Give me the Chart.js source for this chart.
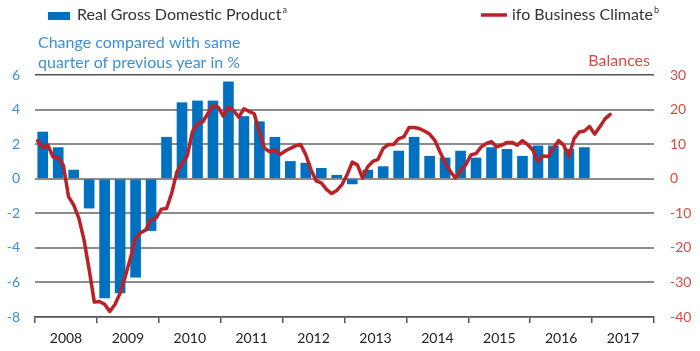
<!DOCTYPE html>
<html>
<head>
<meta charset="utf-8">
<script src="https://cdn.jsdelivr.net/npm/chart.js@4.4.1/dist/chart.umd.min.js"></script>
<style>
  body { margin: 0; background: #fff; }
  #wrap { width: 700px; height: 351px; }
</style>
</head>
<body>
<div id="wrap"><canvas id="ifoChart" width="700" height="351"></canvas></div>
<script>
// quarterly GDP, change vs same quarter previous year (%), 2008Q1 - 2016Q4
const gdpQuarterly = [
  2.7, 1.8, 0.5, -1.7,
  -6.9, -6.6, -5.7, -3.0,
  2.4, 4.4, 4.5, 4.5,
  5.6, 3.6, 3.3, 2.4,
  1.0, 0.9, 0.6, 0.2,
  -0.3, 0.5, 0.7, 1.6,
  2.4, 1.3, 1.2, 1.6,
  1.2, 1.8, 1.7, 1.3,
  1.9, 1.9, 1.7, 1.8
];

// ifo business climate, balances, monthly Jan 2008 - Apr 2017
const ifoMonthly = [
  11.0, 9.0, 9.7, 6.3, 6.1, 3.9, -5.2, -7.6, -11.4, -17.7, -26.3, -35.7,
  -35.5, -36.3, -38.4, -36.4, -33.1, -28.3, -23.0, -17.2, -15.6, -14.8, -11.9, -11.3,
  -8.8, -8.6, -4.2, 2.0, 4.4, 6.5, 13.5, 15.9, 16.4, 18.8, 21.1, 20.7,
  18.1, 20.7, 19.7, 17.8, 20.2, 19.5, 18.8, 13.5, 8.8, 7.8, 8.3, 7.0,
  8.0, 8.8, 9.5, 9.9, 6.9, 2.6, -0.6, -1.2, -3.1, -4.3, -3.4, -1.7,
  1.1, 4.8, 4.0, 0.2, 3.5, 5.0, 5.6, 8.8, 9.9, 9.9, 11.6, 12.1,
  14.8, 14.8, 14.5, 13.8, 12.9, 11.1, 7.8, 4.7, 2.1, 0.2, 2.3, 4.0,
  6.9, 7.3, 9.2, 10.2, 10.7, 9.2, 9.7, 10.5, 10.5, 9.7, 11.0, 9.9,
  8.3, 5.0, 6.6, 6.4, 8.8, 11.0, 9.7, 6.4, 11.6, 13.5, 13.8, 15.1,
  12.9, 15.0, 17.3, 18.6
];

const startYear = 2008;
const endYear = 2018;
const gdpTicks = [-8, -6, -4, -2, 0, 2, 4, 6];
const ifoTicks = [-40, -30, -20, -10, 0, 10, 20, 30];

const gdpLabel = 'Real Gross Domestic Product';
const ifoLabel = 'ifo Business Climate';
const leftTitle = ['Change compared with same', 'quarter of previous year in %'];
const rightTitle = 'Balances';

const barColor = '#0070c0';
const lineColor = '#bb2228';
const blueText = '#3d8fd8';
const redText = '#d64a45';
const fontFamily = 'Lato, "Open Sans", sans-serif';

const gdpPoints = gdpQuarterly.map((v, i) => ({ x: startYear + (i + 0.5) / 4, y: v }));
const ifoPoints = ifoMonthly.map((v, i) => ({ x: startYear + (i + 0.5) / 12, y: v }));

// legend + axis titles drawn on the canvas
const headerText = {
  id: 'headerText',
  afterDraw(chart) {
    const ctx = chart.ctx;
    ctx.save();
    ctx.textBaseline = 'middle';
    ctx.textAlign = 'left';

    ctx.fillStyle = barColor;
    ctx.fillRect(48, 12, 22, 8);
    ctx.font = '16px ' + fontFamily;
    ctx.fillStyle = '#333';
    ctx.fillText(gdpLabel, 77, 15);
    let w = ctx.measureText(gdpLabel).width;
    ctx.font = '9px ' + fontFamily;
    ctx.fillText('a', 78 + w, 10);

    ctx.strokeStyle = lineColor;
    ctx.lineWidth = 3.5;
    ctx.beginPath();
    ctx.moveTo(481, 15);
    ctx.lineTo(507, 15);
    ctx.stroke();
    ctx.font = '16px ' + fontFamily;
    ctx.fillStyle = '#333';
    ctx.fillText(ifoLabel, 512, 15);
    w = ctx.measureText(ifoLabel).width;
    ctx.font = '9px ' + fontFamily;
    ctx.fillText('b', 513 + w, 10);

    ctx.font = '16px ' + fontFamily;
    ctx.fillStyle = blueText;
    ctx.fillText(leftTitle[0], 38, 43);
    ctx.fillText(leftTitle[1], 38, 63);

    ctx.fillStyle = redText;
    ctx.textAlign = 'right';
    ctx.fillText(rightTitle, 650, 61);
    ctx.restore();
  }
};

new Chart(document.getElementById('ifoChart'), {
  type: 'bar',
  data: {
    datasets: [
      {
        type: 'line',
        label: ifoLabel,
        data: ifoPoints,
        xAxisID: 'x',
        yAxisID: 'y1',
        borderColor: lineColor,
        borderWidth: 3.5,
        pointRadius: 0,
        tension: 0,
        borderJoinStyle: 'round',
        borderCapStyle: 'round',
        order: 0
      },
      {
        type: 'bar',
        label: gdpLabel,
        data: gdpPoints,
        xAxisID: 'x',
        yAxisID: 'y',
        backgroundColor: barColor,
        borderWidth: 0,
        barThickness: 10,
        order: 1
      }
    ]
  },
  options: {
    responsive: false,
    animation: false,
    layout: { padding: { top: 75, left: 0, right: 0, bottom: 0 } },
    plugins: {
      legend: { display: false },
      tooltip: { enabled: false }
    },
    scales: {
      x: {
        type: 'linear',
        min: startYear,
        max: endYear,
        offset: false,
        grid: {
          offset: false,
          drawOnChartArea: false,
          drawTicks: true,
          tickLength: 6,
          color: '#555',
          lineWidth: 1.5
        },
        border: { display: true, color: '#555', width: 1.5 },
        ticks: {
          stepSize: 1,
          autoSkip: false,
          maxRotation: 0,
          labelOffset: 31,
          padding: 7,
          color: '#222',
          font: { family: fontFamily, size: 14 },
          callback: v => (v < endYear ? String(v) : '')
        },
        afterFit: s => { s.height = 34; }
      },
      y: {
        position: 'left',
        min: -8,
        max: 6,
        afterBuildTicks: s => { s.ticks = gdpTicks.map(v => ({ value: v })); },
        grid: {
          drawTicks: false,
          color: c => (c.tick.value === 6 || c.tick.value === -8) ? '#555' : '#8c8c8c',
          lineWidth: c => (c.tick.value === 6 || c.tick.value === -8) ? 1.5 : 2
        },
        border: { display: false },
        ticks: {
          padding: 15,
          color: blueText,
          font: { family: fontFamily, size: 14 }
        },
        afterFit: s => { s.width = 35; }
      },
      y1: {
        position: 'right',
        min: -40,
        max: 30,
        afterBuildTicks: s => { s.ticks = ifoTicks.map(v => ({ value: v })); },
        grid: { drawOnChartArea: false, drawTicks: false },
        border: { display: false },
        ticks: {
          padding: 16,
          color: redText,
          font: { family: fontFamily, size: 14 }
        },
        afterFit: s => { s.width = 46; }
      }
    }
  },
  plugins: [headerText]
});
</script>
</body>
</html>
